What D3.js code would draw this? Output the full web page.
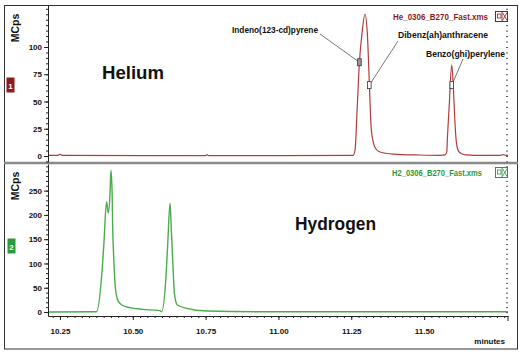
<!DOCTYPE html>
<html><head><meta charset="utf-8">
<script src="https://cdn.jsdelivr.net/npm/d3@7"></script>
<style>body{margin:0;background:#fff}svg{display:block;font-family:Arial,"Liberation Sans",sans-serif}</style>
</head><body><svg id="c" width="521" height="354"></svg>
<script>
// ---- data ----
const heTime  = [10.209,10.24,10.25,10.26,10.55,10.75,10.755,10.76,11.0,11.2562,11.263,11.270,11.278,11.287,11.297,11.305,11.312,11.318,11.326,11.335,11.349,11.394,11.486,11.555,11.572,11.578,11.580,11.586,11.595,11.601,11.606,11.612,11.618,11.629,11.644,11.675,11.761,11.771,11.781,11.788];
const heValue = [0.5,0.5,1.5,0.5,0.4,0.4,1.3,0.4,0.4,0.6,5.5,42,86,113,130,113,67,27,12,6.4,3.7,1.8,0.9,0.6,1.0,4,16,45,83.5,60,30,10,4.5,2.0,1.0,0.6,0.6,1.3,0.6,0.6];
const h2Time  = [10.209,10.376,10.393,10.401,10.410,10.416,10.422,10.425,10.429,10.431,10.435,10.440,10.448,10.462,10.490,10.535,10.593,10.599,10.614,10.620,10.628,10.631,10.637,10.643,10.653,10.685,10.755,10.937,11.788];
const h2Value = [0,0.6,73,142,227,204,245,292,248,176,107,52,25,14.4,9,5.5,2.8,0.6,73,141,224,189,107,38,14.4,7.6,2,0.5,0.5];
const xTicks = [10.25,10.5,10.75,11.0,11.25,11.5];
const xTickLabels = ["10.25","10.50","10.75","11.00","11.25","11.50"];
const heYTicks = [0,25,50,75,100];
const h2YTicks = [0,50,100,150,200,250];
const peakNames  = ["Indeno(123-cd)pyrene","Dibenz(ah)anthracene","Benzo(ghi)perylene"];
const peakTimes  = [11.278,11.312,11.595];
const peakValues = [86,65,65];
const panelNames = ["Helium","Hydrogen"];
const fileNames  = ["He_0306_B270_Fast.xms","H2_0306_B270_Fast.xms"];
const panelBadges = ["1","2"];
const yUnit = "MCps";
const xUnit = "minutes";

// ---- drawing ----
const svg = d3.select("#c");
const heColor = "#b13c3c", h2Color = "#4aac4a";
const x = d3.scaleLinear().domain([10.209,11.788]).range([48,508]);
const yHe = d3.scaleLinear().domain([-5.5,138.5]).range([162,5]);
const yH2 = d3.scaleLinear().domain([-8.2,304.8]).range([316,164]);

// frame
svg.append("rect").attr("x",4.5).attr("y",5.5).attr("width",513).attr("height",343.5)
  .attr("fill","none").attr("stroke","#333").attr("stroke-width",1);

// clip paths
const defs = svg.append("defs");
defs.append("clipPath").attr("id","cHe").append("rect").attr("x",48).attr("y",5).attr("width",460).attr("height",157);
defs.append("clipPath").attr("id","cH2").append("rect").attr("x",48).attr("y",164).attr("width",460).attr("height",152);

const heData = heTime.map((t,i)=>({t,v:heValue[i]}));
const h2Data = h2Time.map((t,i)=>({t,v:h2Value[i]}));

const lineHe = d3.line().x(d=>x(d.t)).y(d=>yHe(d.v)).curve(d3.curveMonotoneX);
const lineH2 = d3.line().x(d=>x(d.t)).y(d=>yH2(d.v)).curve(d3.curveMonotoneX);

svg.append("path").datum(heData).attr("clip-path","url(#cHe)").attr("d",lineHe)
  .attr("fill","none").attr("stroke",heColor).attr("stroke-width",1.2);
svg.append("path").datum(h2Data).attr("clip-path","url(#cH2)").attr("d",lineH2)
  .attr("fill","none").attr("stroke",h2Color).attr("stroke-width",1.4);

// divider
svg.append("line").attr("x1",4).attr("x2",518).attr("y1",163).attr("y2",163)
  .attr("stroke","#8a8a8a").attr("stroke-width",2.5);

function styleAxis(g){
  g.selectAll("text").attr("font-size",8).attr("font-weight","bold").attr("fill","#111");
  g.selectAll("line").attr("stroke","#222");
  g.select(".domain").attr("stroke","#222");
}

// Y axes (left, with minor ticks) + right minor ticks
function yAxes(scale, ticks, minorStep, lo, hi){
  const minor = d3.range(lo, hi, minorStep);
  svg.append("g").attr("transform","translate(48,0)")
    .call(d3.axisLeft(scale).tickValues(minor).tickSize(2).tickFormat("").tickSizeOuter(0))
    .call(styleAxis);
  svg.append("g").attr("transform","translate(48,0)")
    .call(d3.axisLeft(scale).tickValues(ticks).tickSize(4).tickPadding(2).tickFormat(d3.format("d")))
    .call(g=>g.select(".domain").remove()).call(styleAxis);
  svg.append("g").attr("transform","translate(508,0)")
    .call(d3.axisLeft(scale).tickValues(minor).tickSize(2).tickFormat(""))
    .call(g=>g.select(".domain").remove())
    .call(g=>g.selectAll("line").attr("stroke","#555"));
}
yAxes(yHe, heYTicks, 5, -5, 139);
yAxes(yH2, h2YTicks, 10, -0, 305);

// X axis
svg.append("g").attr("transform","translate(0,316)")
  .call(d3.axisBottom(x).tickValues(d3.range(10.225,11.79,0.025)).tickSize(2).tickFormat("").tickSizeOuter(0))
  .call(styleAxis);
svg.append("g").attr("transform","translate(0,316)")
  .call(d3.axisBottom(x).tickValues(xTicks).tickSize(4).tickPadding(8).tickFormat((d,i)=>xTickLabels[i]))
  .call(g=>g.select(".domain").remove()).call(styleAxis);
svg.append("line").attr("x1",508).attr("x2",508).attr("y1",316).attr("y2",321).attr("stroke","#222");

svg.append("text").attr("x",505).attr("y",344).attr("text-anchor","end")
  .attr("font-size",8).attr("font-weight","bold").attr("fill","#111").text(xUnit);

// Y unit labels
[[28],[186]].forEach((p,i)=>{
  svg.append("text").attr("transform",`translate(19,${p[0]}) rotate(-90)`).attr("text-anchor","middle")
    .attr("font-size",10.5).attr("font-weight","bold").attr("fill","#111").text(yUnit);
});

// badges
const badgeCol = ["#8e1b1b","#2c9a3a"];
[[7,78],[8,239]].forEach((p,i)=>{
  svg.append("rect").attr("x",p[0]).attr("y",p[1]).attr("width",7).attr("height",14)
    .attr("fill",badgeCol[i]).attr("stroke",badgeCol[i]);
  svg.append("text").attr("x",p[0]+3.5).attr("y",p[1]+10.5).attr("text-anchor","middle")
    .attr("font-size",8).attr("font-weight","bold").attr("fill","#fff").text(panelBadges[i]);
});

// panel titles
[[102,79,62],[295,230,81]].forEach((p,i)=>{
  svg.append("text").attr("x",p[0]).attr("y",p[1]).attr("font-size",18).attr("font-weight","bold")
    .attr("fill","#111").attr("textLength",p[2]).attr("lengthAdjust","spacingAndGlyphs").text(panelNames[i]);
});

// file names + icons
const fileCol = ["#8e1b1b","#2c9a3a"];
[[393,20,95,11],[392,176,90,167]].forEach((p,i)=>{
  svg.append("text").attr("x",p[0]).attr("y",p[1]).attr("font-size",9).attr("font-weight","bold")
    .attr("fill",fileCol[i]).attr("textLength",p[2]).attr("lengthAdjust","spacingAndGlyphs").text(fileNames[i]);
  const g = svg.append("g").attr("transform",`translate(495,${p[3]})`);
  g.append("rect").attr("x",0.5).attr("y",0.5).attr("width",12).attr("height",10).attr("fill","#fff").attr("stroke",fileCol[i]);
  g.append("rect").attr("x",2.5).attr("y",3).attr("width",3.5).attr("height",4).attr("fill","none").attr("stroke",fileCol[i]).attr("stroke-width",0.8);
  g.append("line").attr("x1",7).attr("x2",7).attr("y1",0.5).attr("y2",10.5).attr("stroke",fileCol[i]).attr("stroke-width",0.8);
  g.append("path").attr("d","M7.5,1.5L12,9.5M12,1.5L7.5,9.5").attr("stroke",fileCol[i]).attr("stroke-width",0.8);
});

// peak annotations
const labelPos = [[232,33,86,320,34],[398,38,90,398,41],[426,57,79,463,59]];
peakNames.forEach((n,i)=>{
  const mx = x(peakTimes[i]), my = yHe(peakValues[i]);
  const lp = labelPos[i];
  svg.append("line").attr("x1",lp[3]).attr("y1",lp[4]).attr("x2",mx).attr("y2",my)
    .attr("stroke","#555").attr("stroke-width",0.8);
  svg.append("rect").attr("x",mx-1.8).attr("y",my-3.5).attr("width",3.6).attr("height",7)
    .attr("fill",i===0?"#999":"#fff").attr("stroke","#333").attr("stroke-width",0.8);
  svg.append("text").attr("x",lp[0]).attr("y",lp[1]).attr("font-size",8.5).attr("font-weight","bold")
    .attr("fill","#111").attr("textLength",lp[2]).attr("lengthAdjust","spacingAndGlyphs").text(n);
});
</script></body></html>
